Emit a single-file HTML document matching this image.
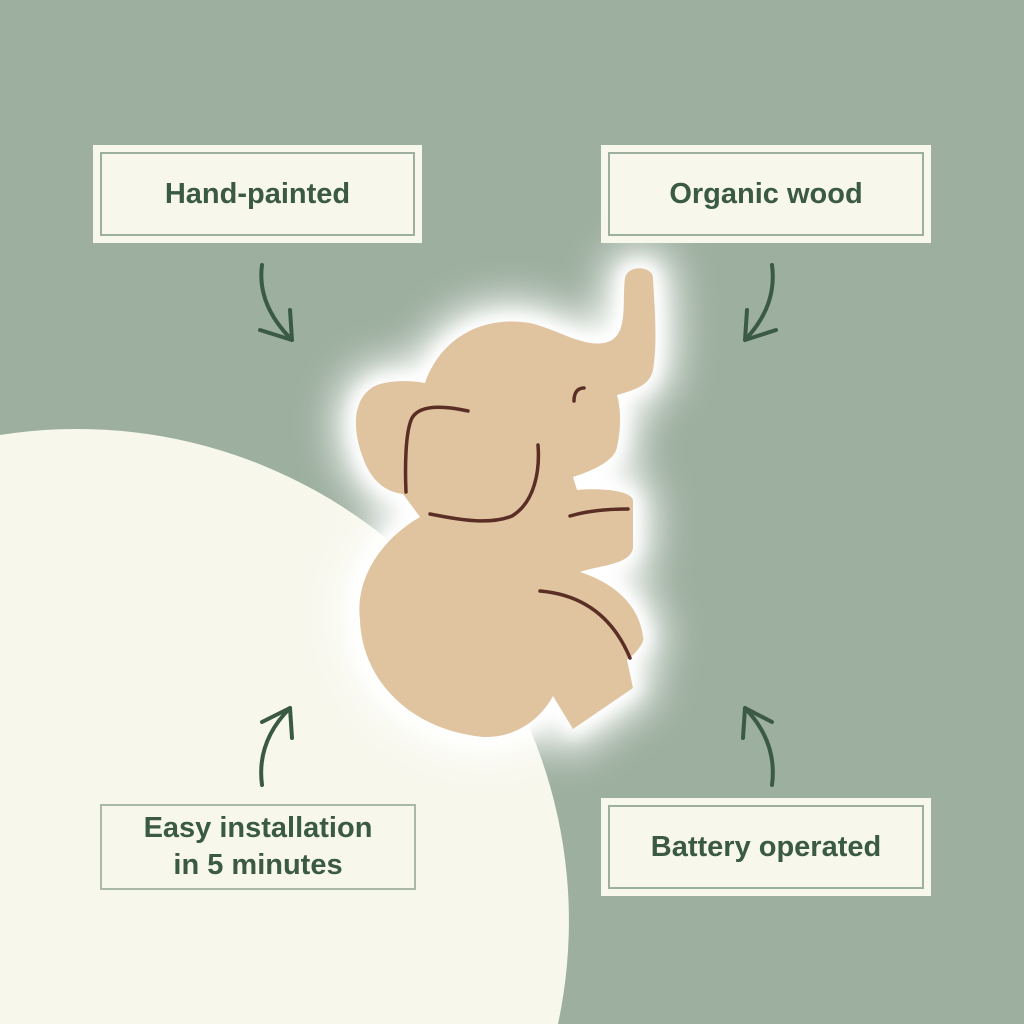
<!DOCTYPE html>
<html style="overflow:hidden"><head><meta charset="utf-8"><style>
html,body{margin:0;padding:0;width:1024px;height:1024px;overflow:hidden}
body{background:#9daf9f;position:relative;font-family:"Liberation Sans",sans-serif}
.box{position:absolute;background:#f7f7ec;box-sizing:border-box}
.inner{position:absolute;left:7px;top:7px;right:7px;bottom:7px;border:2px solid #9daf9f;display:flex;align-items:center;justify-content:center;text-align:center;color:#3b5a43;font-weight:bold;font-size:29px;line-height:37px}
</style></head><body>
<svg width="1024" height="1024" viewBox="0 0 1024 1024" style="position:absolute;left:0;top:0;display:block;overflow:hidden">
<defs>
<filter id="g" x="-50%" y="-50%" width="200%" height="200%"><feGaussianBlur stdDeviation="20"/></filter>
<filter id="g2" x="-50%" y="-50%" width="200%" height="200%"><feGaussianBlur stdDeviation="8"/></filter>
<path id="p" d="M653,278 C653,266 628,264 625,278 C622,300 628,330 612,340 C590,352 560,330 530,323 C480,315 440,340 425,383 C410,380 385,380 373,387 C352,400 353,430 362,455 C370,480 385,492 403,494 L420,517 C380,540 355,580 360,620 C362,680 410,730 483,737 C515,738 540,720 553,696 L573,729 L633,688 L627,660 C640,650 645,640 643,637 C640,610 620,585 580,572 C600,565 630,565 633,548 L633,500 C630,490 600,488 577,490 L573,477 C595,470 615,460 617,447 C622,425 620,405 617,395 C635,390 650,385 653,370 C658,340 654,300 653,278 Z"/>
</defs>
<path d="M0,1024 L0,435 A492,492 0 0 1 558,1024 Z" fill="#f7f7ec"/>
<use href="#p" fill="#fff" stroke="#fff" stroke-width="40" filter="url(#g)"/>
<use href="#p" fill="#fff" stroke="#fff" stroke-width="14" filter="url(#g2)"/>
<use href="#p" fill="#e0c4a0"/>
<g fill="none" stroke="#5a2e25" stroke-width="3.5" stroke-linecap="round">
<path d="M468,411 C445,406 420,404 412,418 C405,432 405,470 406,492"/>
<path d="M430,514 C460,520 490,525 512,516 C535,502 540,470 538,445"/>
<path d="M570,516 C590,510 610,509 628,509"/>
<path d="M540,591 C575,594 610,610 630,658"/>
<path d="M574,401 C574,392 578,388 584,388"/>
</g>
<g fill="none" stroke="#3b5a43" stroke-width="4" stroke-linecap="round" stroke-linejoin="round">
<path d="M262,265 C258,295 272,320 292,340"/><path d="M260,330 L292,340 L290,310"/>
<path d="M772,265 C776,295 764,320 745,340"/><path d="M776,330 L745,340 L747,310"/>
<path d="M262,785 C258,755 268,730 290,708"/><path d="M262,722 L290,708 L292,738"/>
<path d="M772,785 C776,755 766,730 745,708"/><path d="M772,722 L745,708 L743,738"/>
</g>
</svg>
<div class="box" style="left:93px;top:145px;width:329px;height:98px"><div class="inner">Hand-painted</div></div>
<div class="box" style="left:601px;top:145px;width:330px;height:98px"><div class="inner">Organic wood</div></div>
<div class="box" style="left:93px;top:797px;width:330px;height:100px;background:none"><div class="inner" style="border-color:#a9b8a8">Easy installation<br>in 5 minutes</div></div>
<div class="box" style="left:601px;top:798px;width:330px;height:98px"><div class="inner">Battery operated</div></div>
</body></html>
